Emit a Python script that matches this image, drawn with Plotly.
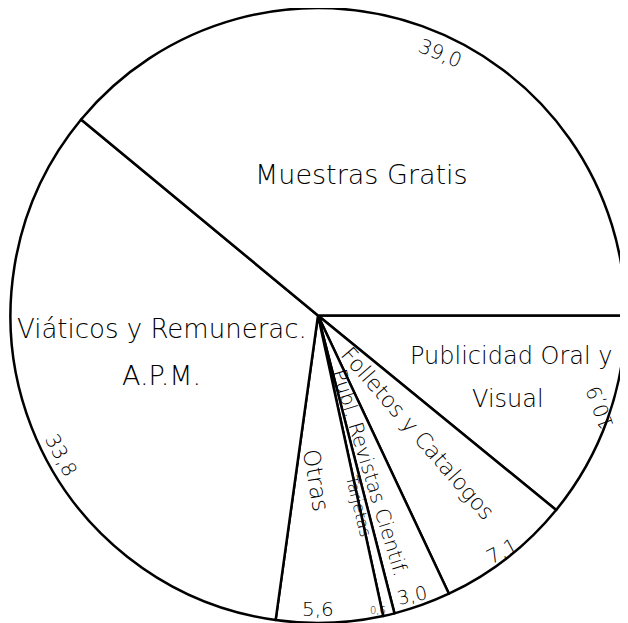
import plotly.graph_objects as go

# Data (percent shares), listed clockwise starting at 3 o'clock
categories = ["Publicidad Oral y Visual", "Folletos y Catalogos", "Publ. Revistas Cientif.",
              "Tarjetas", "Otras", "Viáticos y Remunerac. A.P.M.", "Muestras Gratis"]
values = [10.9, 7.1, 3.0, 0.6, 5.6, 33.8, 39.0]
value_labels = ["10,9", "7,1", "3,0", "0,6", "5,6", "33,8", "39,0"]

# The page body has an 8px offset; figure sized so the pie fills the window
W, H = 620, 615
OFF = 8

def px(x, y):
    return (x - OFF) / W, 1 - (y - OFF) / H

FONT = "DejaVu Sans"

fig = go.Figure(go.Pie(
    labels=categories, values=values, sort=False,
    direction="clockwise", rotation=90,
    marker=dict(colors=["white"] * len(values), line=dict(color="black", width=2.5)),
    textinfo="none", hoverinfo="label+value", showlegend=False,
))

# (text, pixel x, pixel y, angle, size)
texts = [
    ("Muestras Gratis", 361, 175, 0, 27),
    ("Viáticos y Remunerac.", 162, 329, 0, 26),
    ("A.P.M.", 161, 375, 0, 27),
    ("Publicidad Oral y", 511, 356, 0, 24),
    ("Visual", 508, 399, 0, 24),
    ("Folletos y Catalogos", 418, 433, 49, 22),
    ("Publ. Revistas Cientif.", 370, 472, 73, 20),
    ("Tarjetas", 359, 506, 76, 16),
    ("Otras", 316, 480, 80, 23),
]
value_pos = {
    "10,9": (600, 408, -110, 20),
    "7,1": (502, 551, -28, 20),
    "3,0": (412, 595, -12, 19),
    "0,6": (378, 610, 0, 10),
    "5,6": (318, 609, 0, 20),
    "33,8": (61, 455, 62, 20),
    "39,0": (440, 53, 22, 20),
}

def add(t, x, y, a, s):
    xx, yy = px(x, y)
    return dict(text=t, x=xx, y=yy, xref="paper", yref="paper", showarrow=False,
                xanchor="center", yanchor="middle", textangle=a,
                font=dict(family=FONT, size=s, color="black", weight=300))

ann = [add(*t) for t in texts]
for lab in value_labels:
    x, y, a, s = value_pos[lab]
    ann.append(add(lab, x, y, a, s))

fig.update_layout(
    width=W, height=H, margin=dict(l=0, r=0, t=0, b=0),
    paper_bgcolor="white", plot_bgcolor="white",
    annotations=ann,
)

fig.write_html("out.html")
